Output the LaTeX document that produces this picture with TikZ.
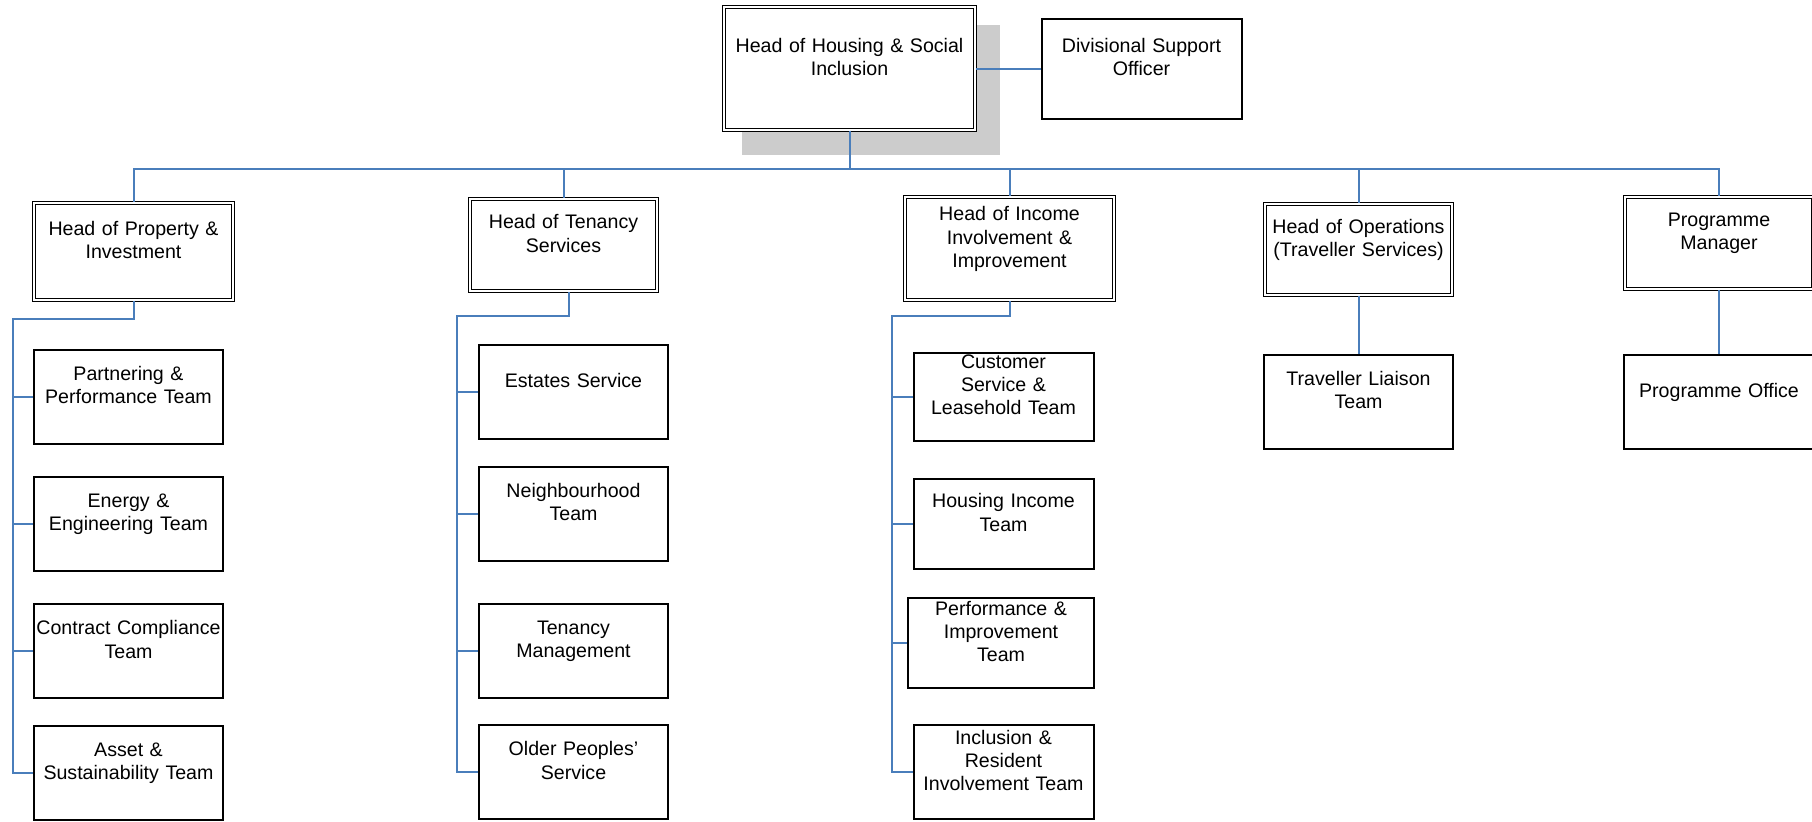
\documentclass[tikz,border=0pt]{standalone}
\usepackage{xcolor}
\usepackage{fontspec}
\setmainfont{Liberation Sans}
\usepackage{tikz}
\usetikzlibrary{backgrounds}

\definecolor{linkblue}{RGB}{74,126,187}
\definecolor{shadowgray}{RGB}{204,204,204}

\tikzset{
  post/.style={draw, line width=1pt, fill=white, text width=#1, align=center,
    inner xsep=0pt, inner ysep=0pt, font=\fontsize{9.8}{11.6}\selectfont,
    execute at end node={\par\mbox{}}},
  headpost/.style={post=#1, line width=0.75pt, double=white, double distance=0.9pt},
  link/.style={draw=linkblue, line width=1pt}
}

\begin{document}
\begin{tikzpicture}[x=0.5pt,y=0.5pt,yscale=-1,xscale=1]
\useasboundingbox (0,0) rectangle (1812,821);
%Top
\node[headpost=125.5pt, minimum height=61.5pt] (head) at (849.5,68.5) {Head of Housing \& Social\\Inclusion};
\begin{scope}[on background layer]
\fill[shadowgray] ([shift={(19,19)}]head.north west) rectangle ([shift={(24,24)}]head.south east);
\end{scope}
\node[post=100pt, minimum height=50pt] (dso) at (1141.5,68.5) {Divisional Support\\Officer};
%Heads
\node[headpost=99.5pt, minimum height=48.5pt] (hpi) at (133.5,251.5) {Head of Property \&\\Investment};
\node[headpost=93.5pt, minimum height=46pt] (hts) at (563.5,245) {Head of Tenancy\\Services};
\node[headpost=104.5pt, minimum height=51.5pt] (hiii) at (1009.5,248.5) {Head of Income\\Involvement \&\\Improvement};
\node[headpost=93.5pt, minimum height=45.5pt] (hots) at (1358.5,249.5) {Head of Operations\\(Traveller Services)};
\node[headpost=94pt, minimum height=46pt] (pm) at (1719,243) {Programme\\Manager};
%Teams
\node[post=94.5pt, minimum height=47pt] (ppt) at (128.5,396.5) {Partnering \&\\Performance Team};
\node[post=94.5pt, minimum height=47pt] (eet) at (128.5,524) {Energy \&\\Engineering Team};
\node[post=94.5pt, minimum height=47pt] (cct) at (128.5,651) {Contract Compliance\\Team};
\node[post=94.5pt, minimum height=47pt] (ast) at (128.5,773) {Asset \&\\Sustainability Team};
\node[post=94.5pt, minimum height=47pt] (es) at (573.5,391.5) {Estates Service};
\node[post=94.5pt, minimum height=47pt] (nt) at (573.5,513.5) {Neighbourhood\\Team};
\node[post=94.5pt, minimum height=47pt] (tm) at (573.5,650.5) {Tenancy\\Management};
\node[post=94.5pt, minimum height=47pt] (ops) at (573.5,772) {Older Peoples’\\Service};
\node[post=90pt, minimum height=44pt] (csl) at (1003.5,396.5) {Customer\\Service \&\\Leasehold Team};
\node[post=90pt, minimum height=45pt] (hit) at (1003.5,524) {Housing Income\\Team};
\node[post=93pt, minimum height=45pt] (pit) at (1001,643) {Performance \&\\Improvement\\Team};
\node[post=90pt, minimum height=47pt] (rit) at (1003.5,772) {Inclusion \&\\Resident\\Involvement Team};
\node[post=94.5pt, minimum height=47pt] (tlt) at (1358.5,401.5) {Traveller Liaison\\Team};
\node[post=95pt, minimum height=47pt] (po) at (1719,401.5) {Programme Office};
%Lines
\coordinate (bus) at (0,169);
\coordinate (sp1) at (13,319);
\coordinate (sp2) at (457,316);
\coordinate (sp3) at (892,316);
\draw[link] (head.east) -- (dso.west);
\foreach \n in {hpi,hts,hiii,hots,pm}
  \draw[link] (head.south) -- (head.south |- bus) -| (\n.north);
\draw[link] (hpi.south) |- (sp1) |- (ast.west);
\foreach \n in {ppt,eet,cct}
  \draw[link] (sp1 |- \n.west) -- (\n.west);
\draw[link] ([xshift=2.5pt]hts.south) |- (sp2) |- (ops.west);
\foreach \n in {es,nt,tm}
  \draw[link] (sp2 |- \n.west) -- (\n.west);
\draw[link] (hiii.south) |- (sp3) |- (rit.west);
\foreach \n in {csl,hit,pit}
  \draw[link] (sp3 |- \n.west) -- (\n.west);
\draw[link] (hots.south) -- (tlt.north);
\draw[link] (pm.south) -- (po.north);
\end{tikzpicture}
\end{document}
